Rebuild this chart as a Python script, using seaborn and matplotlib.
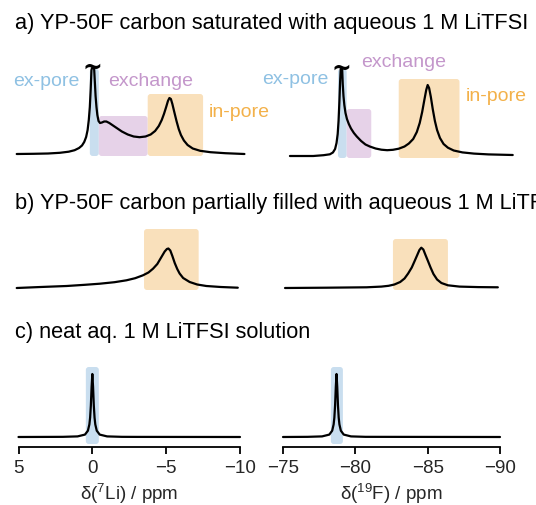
import numpy as np
import matplotlib
matplotlib.use("Agg")
import matplotlib.pyplot as plt
from matplotlib.patches import FancyBboxPatch
import seaborn as sns

# 1. Spectra (ppm, intensity above baseline)
li_sat_ppm = [5.12, 4.0, 3.0, 2.2, 1.6, 1.2, 0.9, 0.7, 0.55, 0.42, 0.32, 0.24, 0.17, 0.11, 0.06,
              0.02, -0.12, -0.17, -0.22, -0.28, -0.34, -0.42, -0.52, -0.65, -0.8, -0.95, -1.15,
              -1.4, -1.7, -2.0, -2.4, -2.8, -3.2, -3.6, -3.95, -4.25, -4.5, -4.7, -4.85, -5.0,
              -5.12, -5.22, -5.32, -5.42, -5.55, -5.7, -5.85, -6.0, -6.2, -6.45, -6.8, -7.3,
              -8.0, -9.0, -10.3]
li_sat_int = [0, 0.2, 0.5, 1.2, 2.3, 3.8, 6, 8.5, 12, 17, 24, 34, 47, 65, 84,
              86, 86, 72, 58, 47, 39, 33, 31, 31.5, 32.5, 32.5, 31,
              28.5, 25.5, 22.5, 19.5, 17.5, 16.8, 17.5, 19.5, 23, 28, 34, 40, 47,
              53, 56, 55, 50, 42, 33, 25, 19, 13.5, 9, 5.5, 3.2,
              1.8, 0.8, 0]

f_sat_ppm = [-75.48, -77.09, -77.8, -78.24, -78.45, -78.6, -78.7, -78.78, -78.84, -78.9, -78.95,
             -78.99, -79.09, -79.13, -79.18, -79.24, -79.32, -79.42, -79.55, -79.7, -79.9, -80.1,
             -80.4, -80.7, -81.0, -81.4, -81.8, -82.2, -82.6, -83.0, -83.4, -83.7, -84.0, -84.25,
             -84.45, -84.62, -84.77, -84.9, -85.0, -85.1, -85.22, -85.35, -85.5, -85.65, -85.85,
             -86.1, -86.4, -86.8, -87.4, -88.2, -89.2, -90.88]
f_sat_int = [0, 0, 0.8, 1.7, 3.5, 7, 13, 22, 35, 55, 75,
             87, 87, 72, 60, 51, 43, 37, 32, 27.5, 23, 19.5,
             15, 11.5, 9.5, 7.5, 6.3, 5.8, 6.2, 7.3, 9.5, 12.5, 17, 24,
             33, 44, 56, 66, 71, 68, 59, 47, 35, 26, 18,
             12, 8.3, 5.5, 3.6, 2.4, 1.6, 1]

li_part_ppm = [5.12, 3.5, 1.74, 0.5, -0.51, -1.5, -2.31, -2.9, -3.43, -3.8, -4.11, -4.4, -4.68,
               -4.9, -5.05, -5.15, -5.28, -5.42, -5.58, -5.75, -5.91, -6.15, -6.59, -7.1, -7.72,
               -8.7, -9.85]
li_part_int = [0, 1.0, 2, 3.2, 4.3, 5.8, 7.7, 9.8, 12.7, 15.5, 19.3, 24, 31,
               36.5, 39, 39.5, 37.5, 32, 25, 19, 14.5, 10, 6, 3.5, 2,
               1, 0.3]

f_part_ppm = [-75.14, -78.0, -80.77, -81.8, -82.3, -82.7, -83.1, -83.4, -83.65, -83.9, -84.1,
              -84.28, -84.43, -84.56, -84.7, -84.85, -85.02, -85.2, -85.4, -85.65, -85.95, -86.4,
              -87.2, -88.5, -89.85]
f_part_int = [0, 0.3, 0.7, 1.4, 2.2, 3.5, 6, 9.5, 14.5, 20.5, 27,
              33, 38, 40.3, 38.5, 33, 27, 20.5, 14, 8.5, 5, 2.7,
              1.4, 0.9, 0.7]

li_neat_ppm = [5, 3, 2, 1, 0.5, 0.3, 0.2, 0.15, 0.1, 0.05, 0, -0.05, -0.1, -0.15, -0.2, -0.3,
               -0.5, -1, -2, -3, -10]
li_neat_int = [0, 0.1, 0.16, 0.6, 2.4, 6.3, 12.6, 19.4, 31.5, 50, 63, 50, 31.5, 19.4, 12.6, 6.3,
               2.4, 0.6, 0.16, 0.1, 0]

f_neat_ppm = [-75, -76.7, -77.7, -78.2, -78.4, -78.5, -78.55, -78.6, -78.65, -78.7, -78.75,
              -78.8, -78.85, -78.9, -79.0, -79.2, -79.7, -80.7, -90]
f_neat_int = [0, 0.16, 0.6, 2.4, 6.3, 12.6, 19.4, 31.5, 50, 63, 50,
              31.5, 19.4, 12.6, 6.3, 2.4, 0.6, 0.16, 0]

# shaded regions: (region, ppm_start, ppm_end, top)
li_sat_regions = [("ex-pore", 0.17, -0.44, 85), ("exchange", -0.44, -3.75, 38), ("in-pore", -3.75, -7.5, 60)]
f_sat_regions = [("ex-pore", -78.8, -79.4, 87), ("exchange", -79.4, -81.1, 47), ("in-pore", -83.0, -87.2, 77)]
li_part_regions = [("in-pore", -3.5, -7.2, 59)]
f_part_regions = [("in-pore", -82.6, -86.4, 49)]
li_neat_regions = [("ex-pore", 0.44, -0.44, 70)]
f_neat_regions = [("ex-pore", -78.31, -79.14, 70)]

# labels (text, ppm, height)
li_sat_labels = [("ex-pore", 3.11, 73), ("exchange", -3.92, 73), ("in-pore", -9.97, 42)]
f_sat_labels = [("ex-pore", -75.83, 77), ("exchange", -83.31, 94), ("in-pore", -89.76, 60)]

row_titles = ["a) YP-50F carbon saturated with aqueous 1 M LiTFSI",
              "b) YP-50F carbon partially filled with aqueous 1 M LiTFSI",
              "c) neat aq. 1 M LiTFSI solution"]
li_ticks = [5, 0, -5, -10]
f_ticks = [-75, -80, -85, -90]

# 2. Style
sns.set_theme(style="white")
plt.rcParams['font.family'] = ['Liberation Sans', 'DejaVu Sans']
plt.rcParams['mathtext.default'] = 'regular'

box_col = {"ex-pore": "#c9deef", "exchange": "#e6d2e8", "in-pore": "#f9e0bb"}
text_col = {"ex-pore": "#8fc1e3", "exchange": "#c497cb", "in-pore": "#f3b14a"}

W, H = 536, 506
fig = plt.figure(figsize=(W / 100, H / 100), dpi=100)


def make_ax(x0, x1, ybot, ytop):
    return fig.add_axes([x0 / W, 1 - ybot / H, (x1 - x0) / W, (ybot - ytop) / H])


# pixel frames: (x0, x1, y_bottom, y_top, ylim)
frames = [
    [(18.5, 240, 160, 55, (-5, 100)), (283, 500, 162, 57, (-5, 100))],
    [(18.5, 240, 294, 224, (-5, 65)), (283, 500, 294, 224, (-5, 65))],
    [(18.5, 240, 448, 365, (-10, 73)), (283, 500, 448, 365, (-10, 73))],
]
spectra = [
    [(li_sat_ppm, li_sat_int, li_sat_regions), (f_sat_ppm, f_sat_int, f_sat_regions)],
    [(li_part_ppm, li_part_int, li_part_regions), (f_part_ppm, f_part_int, f_part_regions)],
    [(li_neat_ppm, li_neat_int, li_neat_regions), (f_neat_ppm, f_neat_int, f_neat_regions)],
]
xlims = [(5, -10), (-75, -90)]

axes = []
for r in range(3):
    row = []
    for c in range(2):
        x0, x1, yb, yt, ylim = frames[r][c]
        ax = make_ax(x0, x1, yb, yt)
        ppm, inten, regions = spectra[r][c]
        ax.set_xlim(*xlims[c])
        ax.set_ylim(*ylim)
        px_per_ppm = (x1 - x0) / 15
        for name, a, b, top in regions:
            lo = min(a, b)
            patch = FancyBboxPatch((lo, ylim[0] + 3), abs(a - b), top - ylim[0] - 3,
                                   boxstyle="round,pad=0,rounding_size=0.2",
                                   mutation_aspect=px_per_ppm,
                                   fc=box_col[name], ec="none", zorder=1)
            ax.add_patch(patch)
        sns.lineplot(x=ppm, y=inten, ax=ax, color="black", lw=1.6, zorder=3,
                     clip_on=False, sort=False)
        for s in ax.spines.values():
            s.set_visible(False)
        ax.set_yticks([])
        ax.set_xticks([])
        ax.set_xlabel("")
        ax.set_ylabel("")
        ax.patch.set_alpha(0)
        row.append(ax)
    axes.append(row)

# truncated ex-pore peaks in row a
for c, (ppm, inten) in enumerate([(li_sat_ppm, li_sat_int), (f_sat_ppm, f_sat_int)]):
    i = int(np.argmax(inten))
    axes[0][c].text(ppm[i] - 0.05, max(inten) + 1, "~", fontsize=17,
                    ha="center", va="center", color="black", zorder=4,
                    fontweight="bold", family="DejaVu Sans")

for c, labels in enumerate([li_sat_labels, f_sat_labels]):
    for name, x, y in labels:
        axes[0][c].text(x, y, name, color=text_col[name], fontsize=14,
                        ha="center", va="center", clip_on=False)

# bottom axis only on row c
for c, (ticks, lab) in enumerate([(li_ticks, r"δ($^{7}$Li) / ppm"), (f_ticks, r"δ($^{19}$F) / ppm")]):
    ax = axes[2][c]
    ax.spines["bottom"].set_visible(True)
    ax.spines["bottom"].set_color("black")
    ax.spines["bottom"].set_linewidth(1.3)
    ax.set_xticks(ticks)
    ax.set_xticklabels([str(t).replace("-", "\u2212") for t in ticks], fontsize=13.5)
    ax.tick_params(axis="x", direction="out", length=5, width=1.3, color="black",
                   bottom=True, pad=4)
    ax.set_xlabel(lab, fontsize=13.5, labelpad=3)

for title, y in zip(row_titles, [23, 203, 333]):
    fig.text(15 / W, 1 - y / H, title, fontsize=15.7, ha="left", va="center", color="black")

fig.savefig("out.png", dpi=100)
